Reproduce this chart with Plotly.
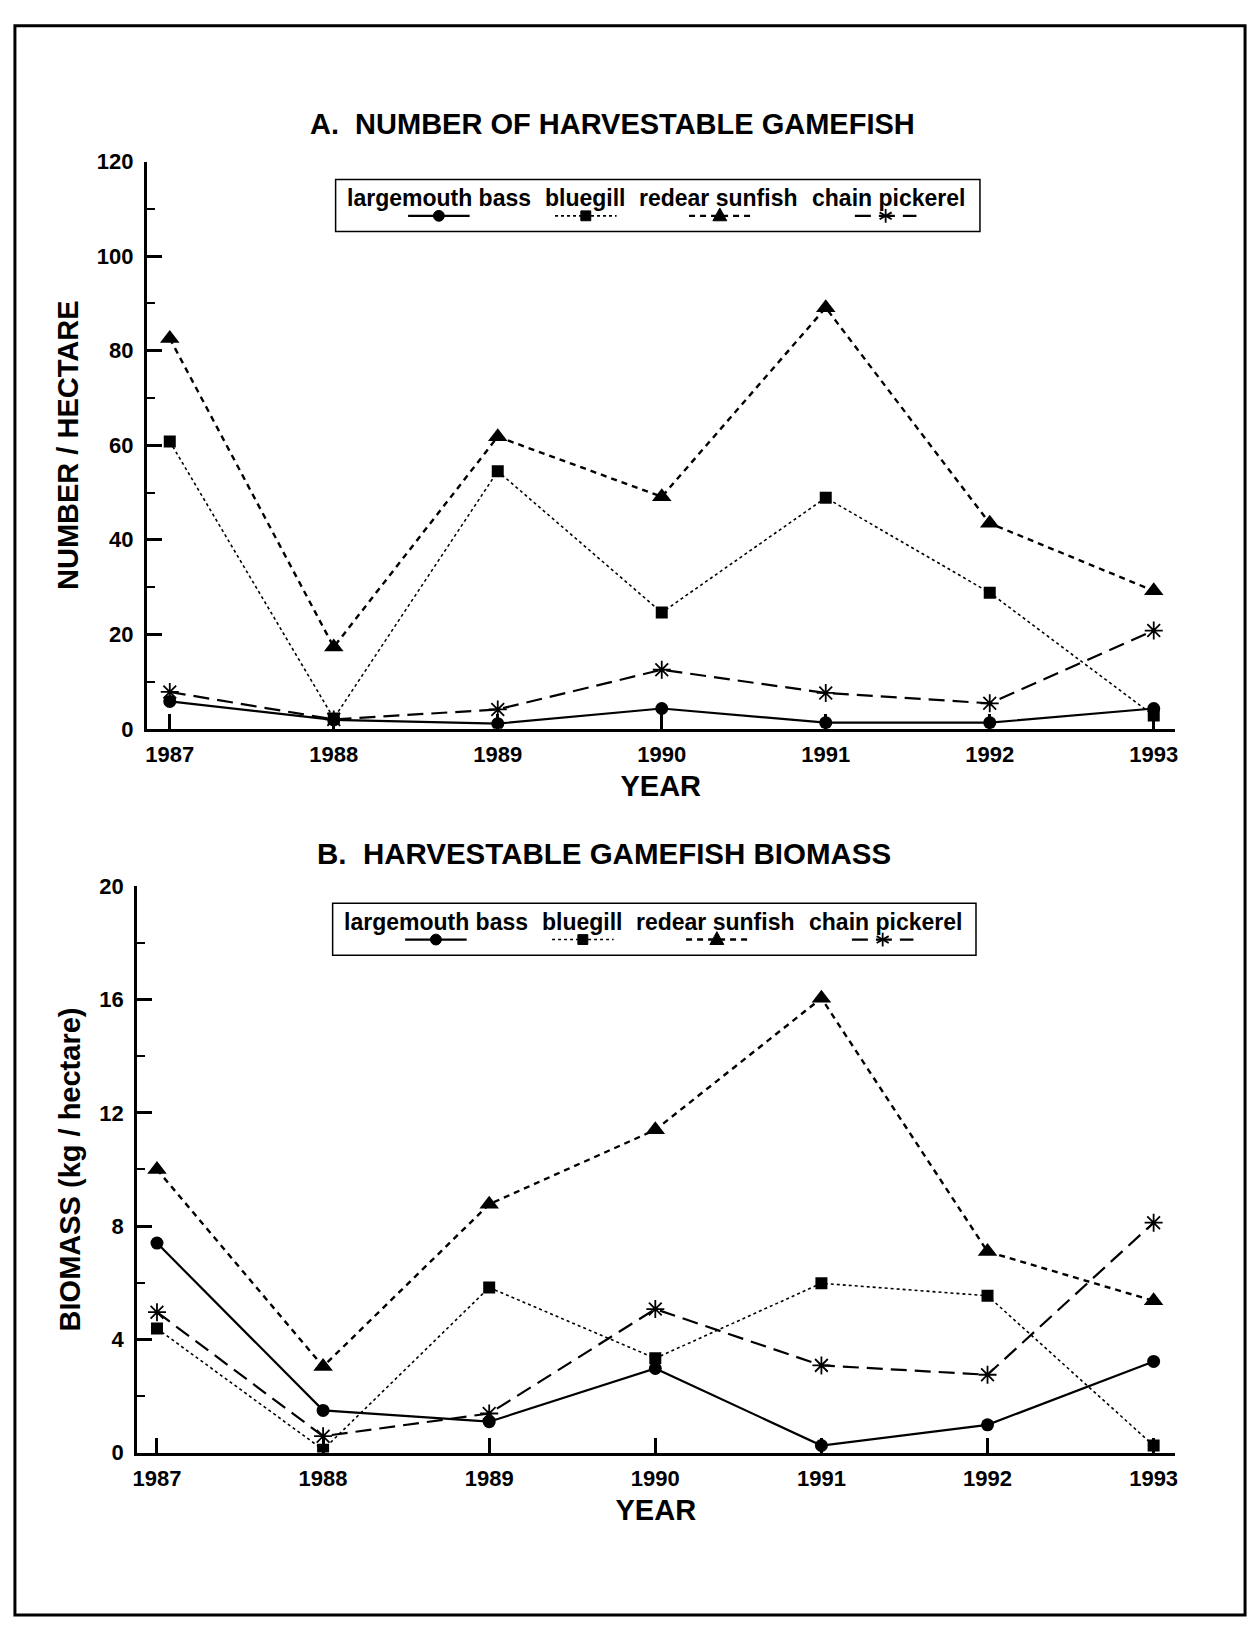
import plotly.graph_objects as go

years = [1987, 1988, 1989, 1990, 1991, 1992, 1993]
series_names = ["largemouth bass", "bluegill", "redear sunfish", "chain pickerel"]

# Panel A: number / hectare
num_bass = [5.8, 1.9, 1.1, 4.3, 1.3, 1.3, 4.3]
num_bluegill = [60.8, 2.2, 54.5, 24.6, 48.9, 28.8, 2.8]
num_redear = [82.6, 17.3, 61.8, 49.1, 89.1, 43.5, 29.2]
num_pickerel = [7.8, 2.0, 4.1, 12.5, 7.6, 5.4, 20.8]

# Panel B: biomass kg / hectare
bio_bass = [7.4, 1.49, 1.09, 2.97, 0.25, 0.98, 3.22]
bio_bluegill = [4.38, 0.1, 5.83, 3.33, 5.98, 5.54, 0.25]
bio_redear = [10.0, 3.04, 8.77, 11.4, 16.05, 7.1, 5.36]
bio_pickerel = [4.96, 0.58, 1.38, 5.07, 3.08, 2.75, 8.12]

y_ticks_a = [0, 20, 40, 60, 80, 100, 120]
y_ticks_b = [0, 4, 8, 12, 16, 20]

W, H = 1256, 1631
FONT = "Liberation Sans, Arial, sans-serif"


def px_x(p):
    return p / W


def px_y(p):
    return (H - p) / H


line_styles = [
    dict(color="black", width=2.2, dash="solid"),
    dict(color="black", width=1.6, dash="dot"),
    dict(color="black", width=2.4, dash="6px,5px"),
    dict(color="black", width=2.2, dash="16px,8px"),
]
marker_styles = [
    dict(symbol="circle", size=13, color="black"),
    dict(symbol="square", size=12, color="black"),
    dict(symbol="triangle-up", size=17, color="black"),
    dict(symbol="asterisk-open", size=15, color="black", line=dict(color="black", width=1.8)),
]

fig = go.Figure()
panel_a = [num_bass, num_bluegill, num_redear, num_pickerel]
panel_b = [bio_bass, bio_bluegill, bio_redear, bio_pickerel]

for name, vals, ls, ms in zip(series_names, panel_a, line_styles, marker_styles):
    fig.add_trace(go.Scatter(x=years, y=vals, name=name, mode="lines+markers",
                             line=ls, marker=ms, xaxis="x", yaxis="y", showlegend=False))
for name, vals, ls, ms in zip(series_names, panel_b, line_styles, marker_styles):
    fig.add_trace(go.Scatter(x=years, y=vals, name=name, mode="lines+markers",
                             line=ls, marker=ms, xaxis="x2", yaxis="y2", showlegend=False))

tickfont = dict(family=FONT, size=22, color="black", weight="bold")
titlefont = dict(family=FONT, size=29, color="black", weight="bold")

common_x = dict(tickvals=years, ticktext=[str(y) for y in years], ticks="inside",
                ticklen=15, tickwidth=2.5, tickcolor="black", showline=True,
                linecolor="black", linewidth=3, showgrid=False, zeroline=False,
                tickfont=tickfont, title_font=titlefont, ticklabelstandoff=4)
common_y = dict(ticks="inside", ticklen=15, tickwidth=2.5, tickcolor="black",
                showline=True, linecolor="black", linewidth=3, showgrid=False,
                zeroline=False, tickfont=tickfont, title_font=titlefont,
                ticklabelstandoff=6)

fig.update_layout(
    width=W, height=H,
    margin=dict(l=0, r=0, t=0, b=0),
    paper_bgcolor="white", plot_bgcolor="white",
    font=dict(family=FONT, color="black"),
    showlegend=False,
    xaxis=dict(common_x, domain=[px_x(143), px_x(1178)], range=[1986.861, 1993.127],
               anchor="y", title=dict(text="YEAR", standoff=10)),
    yaxis=dict(common_y, domain=[px_y(728), px_y(152)], range=[0, 120],
               tickvals=y_ticks_a, anchor="x",
               minor=dict(dtick=10, ticks="inside", ticklen=8, tickwidth=2, tickcolor="black"),
               title=dict(text="NUMBER / HECTARE", standoff=10)),
    xaxis2=dict(common_x, domain=[px_x(133), px_x(1178)], range=[1986.88, 1993.126],
                anchor="y2", title=dict(text="YEAR", standoff=10)),
    yaxis2=dict(common_y, domain=[px_y(1463), px_y(888)], range=[0, 20],
                tickvals=y_ticks_b, anchor="x2",
                minor=dict(dtick=2, ticks="inside", ticklen=8, tickwidth=2, tickcolor="black"),
                title=dict(text="BIOMASS (kg / hectare)", standoff=10)),
)

# Panel titles
fig.add_annotation(text="A.  NUMBER OF HARVESTABLE GAMEFISH", xref="paper", yref="paper",
                   x=px_x(612), y=px_y(114), xanchor="center", yanchor="middle",
                   showarrow=False, font=dict(family=FONT, size=29, color="black", weight="bold"))
fig.add_annotation(text="B.  HARVESTABLE GAMEFISH BIOMASS", xref="paper", yref="paper",
                   x=px_x(603), y=px_y(855), xanchor="center", yanchor="middle",
                   showarrow=False, font=dict(family=FONT, size=29.5, color="black", weight="bold"))

# Outer frame
fig.add_shape(type="rect", xref="paper", yref="paper",
              x0=px_x(10), x1=px_x(1249), y0=px_y(1628), y1=px_y(14),
              line=dict(color="black", width=3))

# Custom legends (text above line sample, like the original)
legend_boxes = [(333, 982, 170, 223), (330, 978, 905, 958)]
text_centers = [437, 585, 719, 890]
sample_centers = [437, 585, 720, 887]


def add_legend(box, dx=0):
    x0, x1, y0, y1 = box
    fig.add_shape(type="rect", xref="paper", yref="paper",
                  x0=px_x(x0), x1=px_x(x1), y0=px_y(y1), y1=px_y(y0),
                  line=dict(color="black", width=1.5), fillcolor="white")
    ty = y0 + 19
    sy = y0 + 37
    for i, name in enumerate(series_names):
        tc = text_centers[i] + dx
        sc = sample_centers[i] + dx
        fig.add_annotation(text=name, xref="paper", yref="paper",
                           x=px_x(tc), y=px_y(ty), xanchor="center", yanchor="middle",
                           showarrow=False,
                           font=dict(family=FONT, size=23, color="black", weight="bold"))
        ls = line_styles[i]
        fig.add_shape(type="line", xref="paper", yref="paper",
                      x0=px_x(sc - 31), x1=px_x(sc + 31), y0=px_y(sy), y1=px_y(sy),
                      line=dict(color="black", width=ls["width"], dash=ls["dash"]))
        if i == 0:
            r = 5.5
            fig.add_shape(type="circle", xref="paper", yref="paper",
                          x0=px_x(sc - r), x1=px_x(sc + r), y0=px_y(sy + r), y1=px_y(sy - r),
                          line=dict(color="black", width=1), fillcolor="black")
        elif i == 1:
            r = 5
            fig.add_shape(type="rect", xref="paper", yref="paper",
                          x0=px_x(sc - r), x1=px_x(sc + r), y0=px_y(sy + r), y1=px_y(sy - r),
                          line=dict(color="black", width=1), fillcolor="black")
        elif i == 2:
            r = 7
            path = "M {} {} L {} {} L {} {} Z".format(
                px_x(sc - r), px_y(sy + 5), px_x(sc + r), px_y(sy + 5), px_x(sc), px_y(sy - 8))
            fig.add_shape(type="path", xref="paper", yref="paper", path=path,
                          line=dict(color="black", width=1), fillcolor="black")
        else:
            r = 7
            for (ax, ay) in [(0, 1), (0.87, 0.5), (0.87, -0.5)]:
                fig.add_shape(type="line", xref="paper", yref="paper",
                              x0=px_x(sc - r * ax), x1=px_x(sc + r * ax),
                              y0=px_y(sy - r * ay), y1=px_y(sy + r * ay),
                              line=dict(color="black", width=1.8))


add_legend(legend_boxes[0], 0)
add_legend(legend_boxes[1], -3)

fig.write_html(
    "out.html",
    config={"displayModeBar": False},
    post_script=(
        "document.documentElement.style.margin='0';"
        "document.documentElement.style.padding='0';"
        "document.documentElement.style.overflow='hidden';"
        "document.body.style.margin='0';"
        "document.body.style.padding='0';"
        "document.body.style.overflow='hidden';"
    ),
)
